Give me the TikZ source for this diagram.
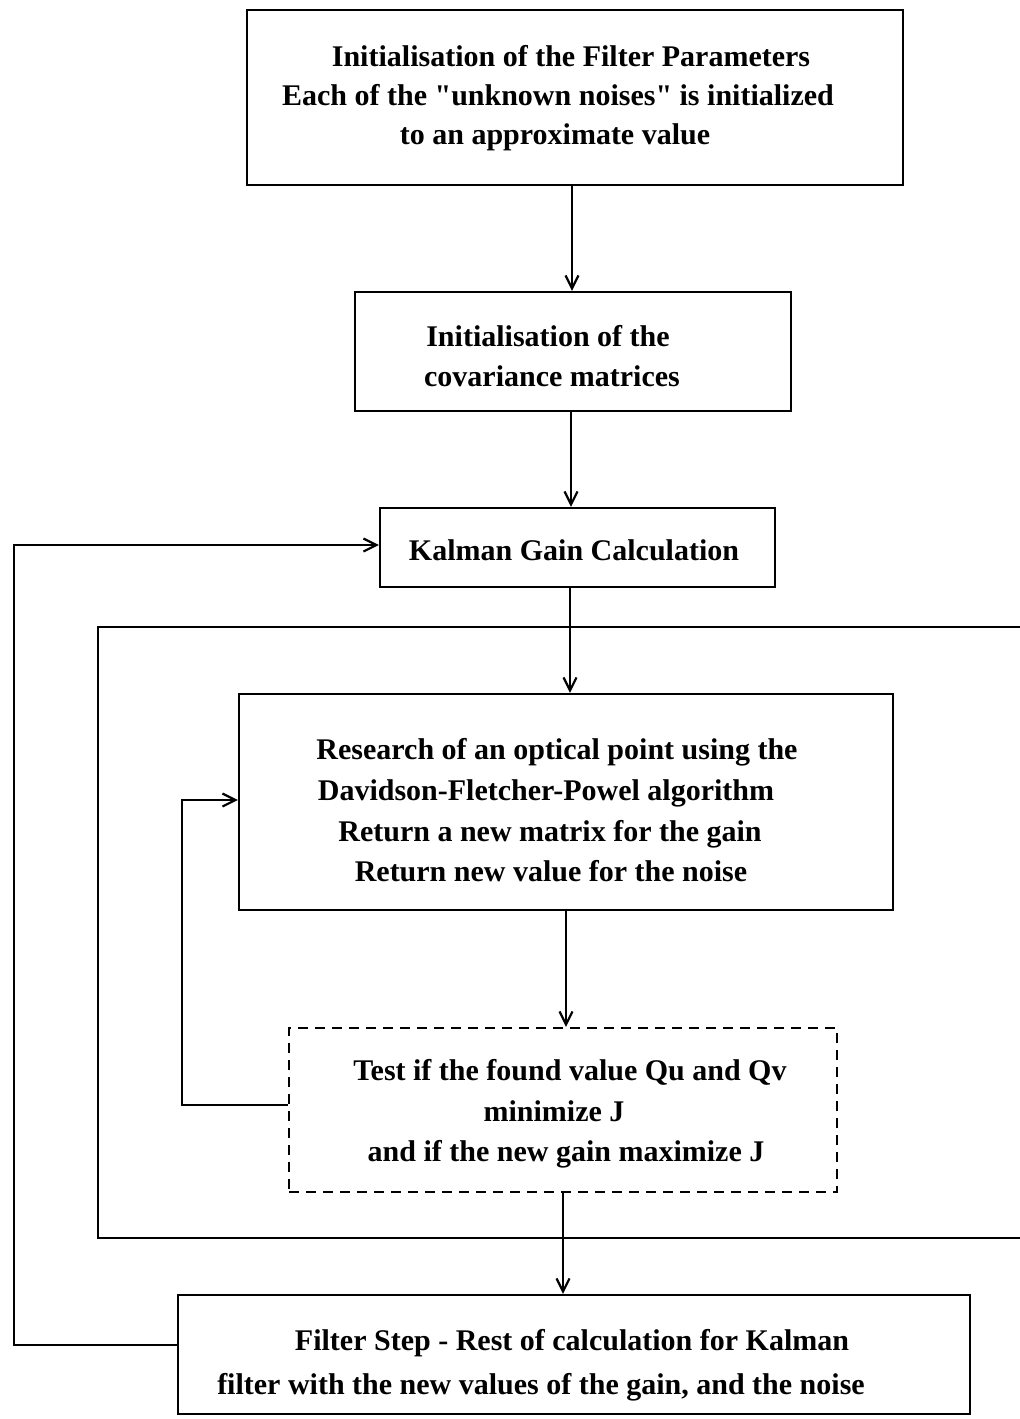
\documentclass[tikz,border=0pt]{standalone}
\usepackage{fontspec}
\setmainfont{Liberation Serif}
\newfontfamily\qfont{Liberation Serif}
\newcommand{\sq}{{\qfont\bfseries "}}
\usetikzlibrary{arrows.meta}
\tikzset{
  box/.style={draw, line width=2.2pt, inner sep=0pt},
  dbox/.style={box, dash pattern=on 10pt off 7pt},
  txt/.style={anchor=base, inner sep=0pt, font=\fontsize{30}{40}\selectfont\bfseries},
  arr/.style={line width=2.2pt, -{Straight Barb[length=13pt,width=13pt]}},
  ln/.style={line width=2.2pt}
}
\begin{document}
\begin{tikzpicture}[x=1pt,y=-1pt]
\useasboundingbox (0,0) rectangle (1020,1419);
% boxes
\node[box, minimum width=656pt, minimum height=175pt] (b1) at (575,97.5) {};
\node[box, minimum width=436pt, minimum height=119pt] (b2) at (573,351.5) {};
\node[box, minimum width=395pt, minimum height=79pt] (b3) at (577.5,547.5) {};
\node[box, minimum width=654pt, minimum height=216pt] (b4) at (566,802) {};
\node[dbox, minimum width=548pt, minimum height=164pt] (b5) at (563,1110) {};
\node[box, minimum width=792pt, minimum height=119pt] (b6) at (574,1354.5) {};
% texts
\node[txt] (t11) at (571,66) {Initialisation of the Filter Parameters};
\node[txt] (t12) at (558,105) {Each of the \sq unknown noises\sq{} is initialized};
\node[txt] (t13) at (555,144) {to an approximate value};
\node[txt] (t21) at (548,346) {Initialisation of the};
\node[txt] (t22) at (552,386) {covariance matrices};
\node[txt] (t31) at (574,560) {Kalman Gain Calculation};
\node[txt] (t41) at (557,759) {Research of an optical point using the};
\node[txt] (t42) at (546,800) {Davidson-Fletcher-Powel algorithm};
\node[txt] (t43) at (550,841) {Return a new matrix for the gain};
\node[txt] (t44) at (551,881) {Return new value for the noise};
\node[txt] (t51) at (570,1080) {Test if the found value Qu and Qv};
\node[txt] (t52) at (554,1121) {minimize J};
\node[txt] (t53) at (566,1161) {and if the new gain maximize J};
\node[txt] (t61) at (572,1350) {Filter Step - Rest of calculation for Kalman};
\node[txt] (t62) at (541,1394) {filter with the new values of the gain, and the noise};
% open frame
\draw[ln] (1020,627) -- (98,627) -- (98,1238) -- (1020,1238);
% connectors
\draw[arr] ([xshift=-3pt]b1.south) -- ([xshift=-3pt]b1.south |- b2.north);
\draw[arr] ([xshift=-2pt]b2.south) -- ([xshift=-2pt]b2.south |- b3.north);
\draw[arr] ([xshift=-7.5pt]b3.south) -- ([xshift=-7.5pt]b3.south |- b4.north);
\draw[arr] (b4.south) -- (b4.south |- b5.north);
\draw[arr] (b5.south) -- (b5.south |- b6.north);
\draw[arr] ([yshift=9.5pt]b6.west) -- ++(-163,0) |- ([yshift=2.5pt]b3.west);
\draw[arr] ([yshift=5pt]b5.west) -- ++(-106,0) |- ([yshift=2pt]b4.west);
\end{tikzpicture}
\end{document}
